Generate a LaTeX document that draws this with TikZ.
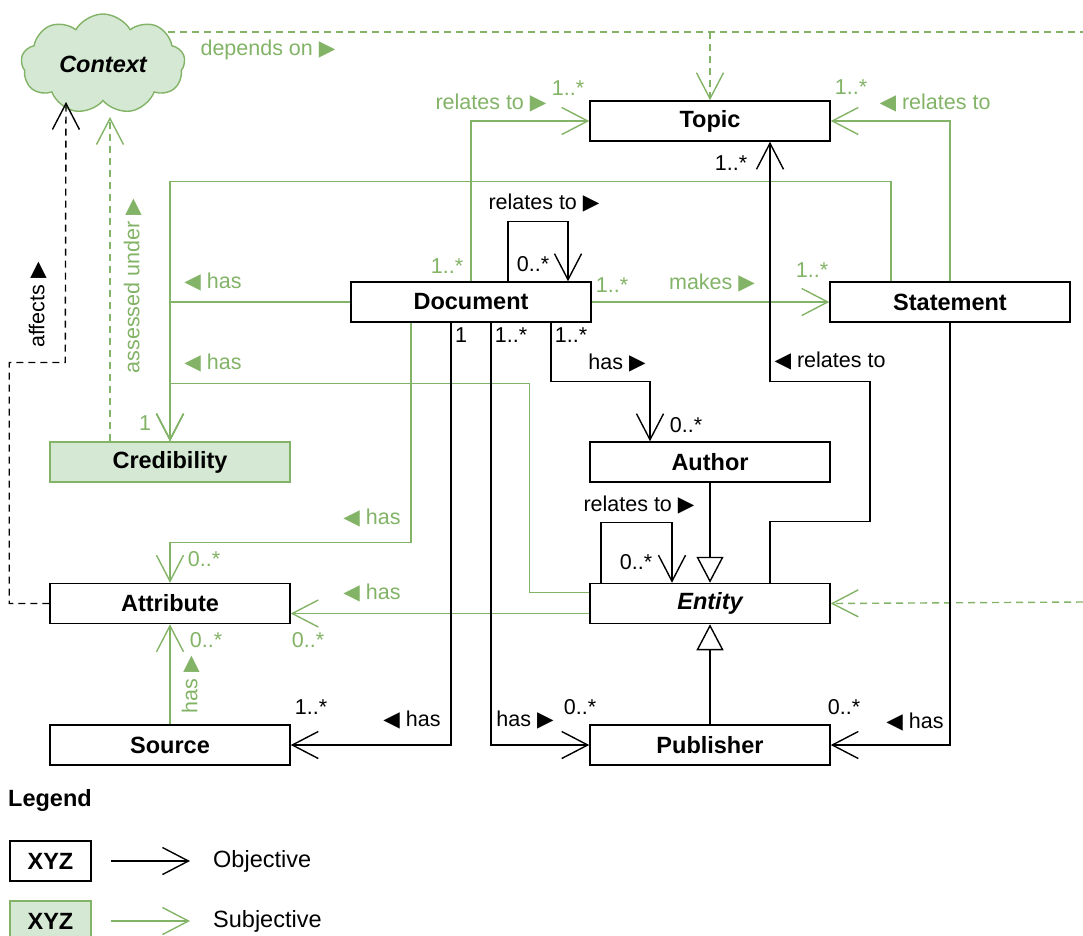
\documentclass[tikz,border=0pt]{standalone}
\usepackage{fontspec}
\setmainfont{Liberation Sans}
\newfontfamily\trifont{DejaVu Sans}
\usetikzlibrary{positioning}
\usetikzlibrary{arrows.meta}
\usetikzlibrary{shapes.symbols}
\definecolor{subgreen}{HTML}{82B366}
\definecolor{subfill}{HTML}{D5E8D4}
\newcommand{\rtri}{{\trifont ▶}}
\newcommand{\ltri}{{\trifont ◀}}
\tikzset{node distance=100pt, % gap between the stacked classes
objbox/.style={ % objective class
draw, line width=1.5pt,
minimum width=240pt, minimum height=40pt, inner sep=0pt,
font=\fontsize{23.5}{28}\selectfont\bfseries},
subjbox/.style={objbox, draw=subgreen, fill=subfill}, % subjective class
cloudbox/.style={cloud, cloud puffs=9, cloud puff arc=120, cloud ignores aspect,
draw=subgreen, fill=subfill, line width=1.4pt,
minimum width=164pt, minimum height=100pt, inner sep=0pt,
font=\fontsize{23.5}{28}\selectfont\bfseries\itshape},
objlbl/.style={inner sep=0pt, font=\fontsize{21.5}{26}\selectfont},
sublbl/.style={objlbl, text=subgreen},
legtxt/.style={inner sep=0pt, anchor=west, font=\fontsize{23.5}{28}\selectfont},
objline/.style={draw, line width=1.4pt,
-{Straight Barb[length=26pt,width=27pt]}}, % open association arrow
subjline/.style={objline, draw=subgreen},
objdash/.style={objline, dash pattern=on 7pt off 5pt},
subjdash/.style={subjline, dash pattern=on 7pt off 5pt},
genline/.style={draw, line width=1.4pt,
-{Triangle[open,length=26pt,width=27pt]}}} % generalisation

\begin{document}
\begin{tikzpicture}[x=1pt,y=-1pt]
\useasboundingbox (0,0) rectangle (1083,935);

\node[cloudbox] (ctx) at (103,64) {Context};
\node[objbox] (topic) at (710,121) {Topic};
\node[objbox] (doc) at (471,302) {Document};
\node[objbox] (stmt) at (950,302) {Statement};
\node[objbox] (author) at (710,462) {Author};
\node[objbox, below=of author] (ent) {\itshape Entity};
\node[objbox, below=of ent] (pub) {Publisher};
\node[subjbox] (cred) at (170,462) {Credibility};
\node[objbox, below=of cred] (attr) {Attribute};
\node[objbox, below=of attr] (src) {Source};

\coordinate (ctxtop) at (168,32);
\coordinate (edgetop) at (1083,32);
\coordinate (edgeent) at (1083,602);
\coordinate (ctxaff) at (66,102);
\coordinate (ctxcred) at (110,117);

% subjective relations
\draw[subjdash, -] (ctxtop) -- (edgetop);
\draw[subjdash] (topic.north |- ctxtop) -- (topic.north);
\draw[subjdash] (edgeent) -- (ent.east);
\draw[subjdash] ([xshift=-60pt]cred.north) -- (ctxcred);
\draw[subjline] (doc.north) |- (topic.west);
\draw[subjline] (stmt.north) |- (topic.east);
\draw[subjline] ([xshift=-59pt]stmt.north) -- ++(0,-100) -| (cred.north);
\draw[subjline] (doc.west) -| (cred.north);
\draw[subjline] ([yshift=11pt]ent.west) -- ++(-60,0) -- ++(0,-209) -| (cred.north);
\draw[subjline] (doc.east) -- (stmt.west);
\draw[subjline] ([xshift=-60pt]doc.south) -- ++(0,220) -| (attr.north);
\draw[subjline] ([yshift=-10pt]ent.west) -- ([yshift=-10pt]attr.east);
\draw[subjline] (src.north) -- (attr.south);

% objective relations
\draw[objdash] (attr.west) -- ++(-40,0) -- ++(0,-241) -- ++(56,0) -- (ctxaff);
\draw[objline] ([xshift=37pt]doc.north) -- ++(0,-60) -| ([xshift=97pt]doc.north);
\draw[objline] ([xshift=80pt]doc.south) -- ++(0,59) -| ([xshift=-60pt]author.north);
\draw[objline] ([xshift=-20pt]doc.south) |- (src.east);
\draw[objline] ([xshift=20pt]doc.south) |- (pub.west);
\draw[objline] (stmt.south) |- (pub.east);
\draw[objline] ([xshift=-109pt]ent.north) -- ++(0,-60) -| ([xshift=-38pt]ent.north);
\draw[objline] ([xshift=60pt]ent.north) -- ++(0,-61) -- ++(100,0) -- ++(0,-140) -| ([xshift=60pt]topic.south);
\draw[genline] (author.south) -- (ent.north);
\draw[genline] (pub.north) -- (ent.south);

% role names and multiplicities
\node[sublbl] (dependson) at (268,50) {depends on \rtri};
\node[sublbl] (docreltopic) at (491,103) {relates to \rtri};
\node[sublbl] (m-topicl) at (568,88) {1..*};
\node[sublbl] (stmtreltopic) at (935,103) {\ltri\ relates to};
\node[sublbl] (m-topicr) at (851,87) {1..*};
\node[objlbl] (m-topicb) at (731,163) {1..*};
\node[objlbl] (docreldoc) at (544,203) {relates to \rtri};
\node[objlbl] (m-docloop) at (533,264) {0..*};
\node[sublbl] (m-doctop) at (447,266) {1..*};
\node[sublbl] (m-docright) at (612,285) {1..*};
\node[sublbl] (makes) at (712,283) {makes \rtri};
\node[sublbl] (m-stmt) at (812,270) {1..*};
\node[sublbl] (dochascred) at (213,282) {\ltri\ has};
\node[sublbl] (enthascred) at (213,363) {\ltri\ has};
\node[sublbl] (m-cred) at (145,423) {1};
\node[sublbl, rotate=90] (assessed) at (133,286) {assessed under \rtri};
\node[objlbl, rotate=90] (affects) at (38,305) {affects \rtri};
\node[objlbl] (dochasauth) at (617,363) {has \rtri};
\node[objlbl] (m-doc1) at (461,335) {1};
\node[objlbl] (m-doc2) at (511,335) {1..*};
\node[objlbl] (m-doc3) at (571,335) {1..*};
\node[objlbl] (m-author) at (686,425) {0..*};
\node[objlbl] (entreltopic) at (830,361) {\ltri\ relates to};
\node[objlbl] (entrelent) at (639,505) {relates to \rtri};
\node[objlbl] (m-entloop) at (636,562) {0..*};
\node[sublbl] (dochasattr) at (372,518) {\ltri\ has};
\node[sublbl] (m-attrtop) at (204,559) {0..*};
\node[sublbl] (enthasattr) at (372,593) {\ltri\ has};
\node[sublbl] (m-attrright) at (308,640) {0..*};
\node[sublbl] (m-attrbot) at (206,640) {0..*};
\node[sublbl, rotate=90] (srchasattr) at (191,685) {has \rtri};
\node[objlbl] (m-src) at (311,707) {1..*};
\node[objlbl] (dochassrc) at (412,720) {\ltri\ has};
\node[objlbl] (dochaspub) at (525,720) {has \rtri};
\node[objlbl] (m-publ) at (580,707) {0..*};
\node[objlbl] (m-pubr) at (844,707) {0..*};
\node[objlbl] (stmthaspub) at (915,722) {\ltri\ has};

% legend
\node[inner sep=0pt, anchor=west, font=\fontsize{23.5}{28}\selectfont\bfseries] (legend) at (8,800) {Legend};
\node[objbox, minimum width=81pt] (legobj) at (50.5,861) {XYZ};
\node[subjbox, minimum width=81pt] (legsubj) at (50.5,921) {XYZ};
\node[legtxt] (objtxt) at (213,861) {Objective};
\node[legtxt] (subjtxt) at (213,921) {Subjective};
\draw[objline] ([xshift=19pt]legobj.east) -- ([xshift=-23pt]objtxt.west);
\draw[subjline] ([xshift=19pt]legsubj.east) -- ([xshift=-23pt]subjtxt.west);
\end{tikzpicture}
\end{document}
